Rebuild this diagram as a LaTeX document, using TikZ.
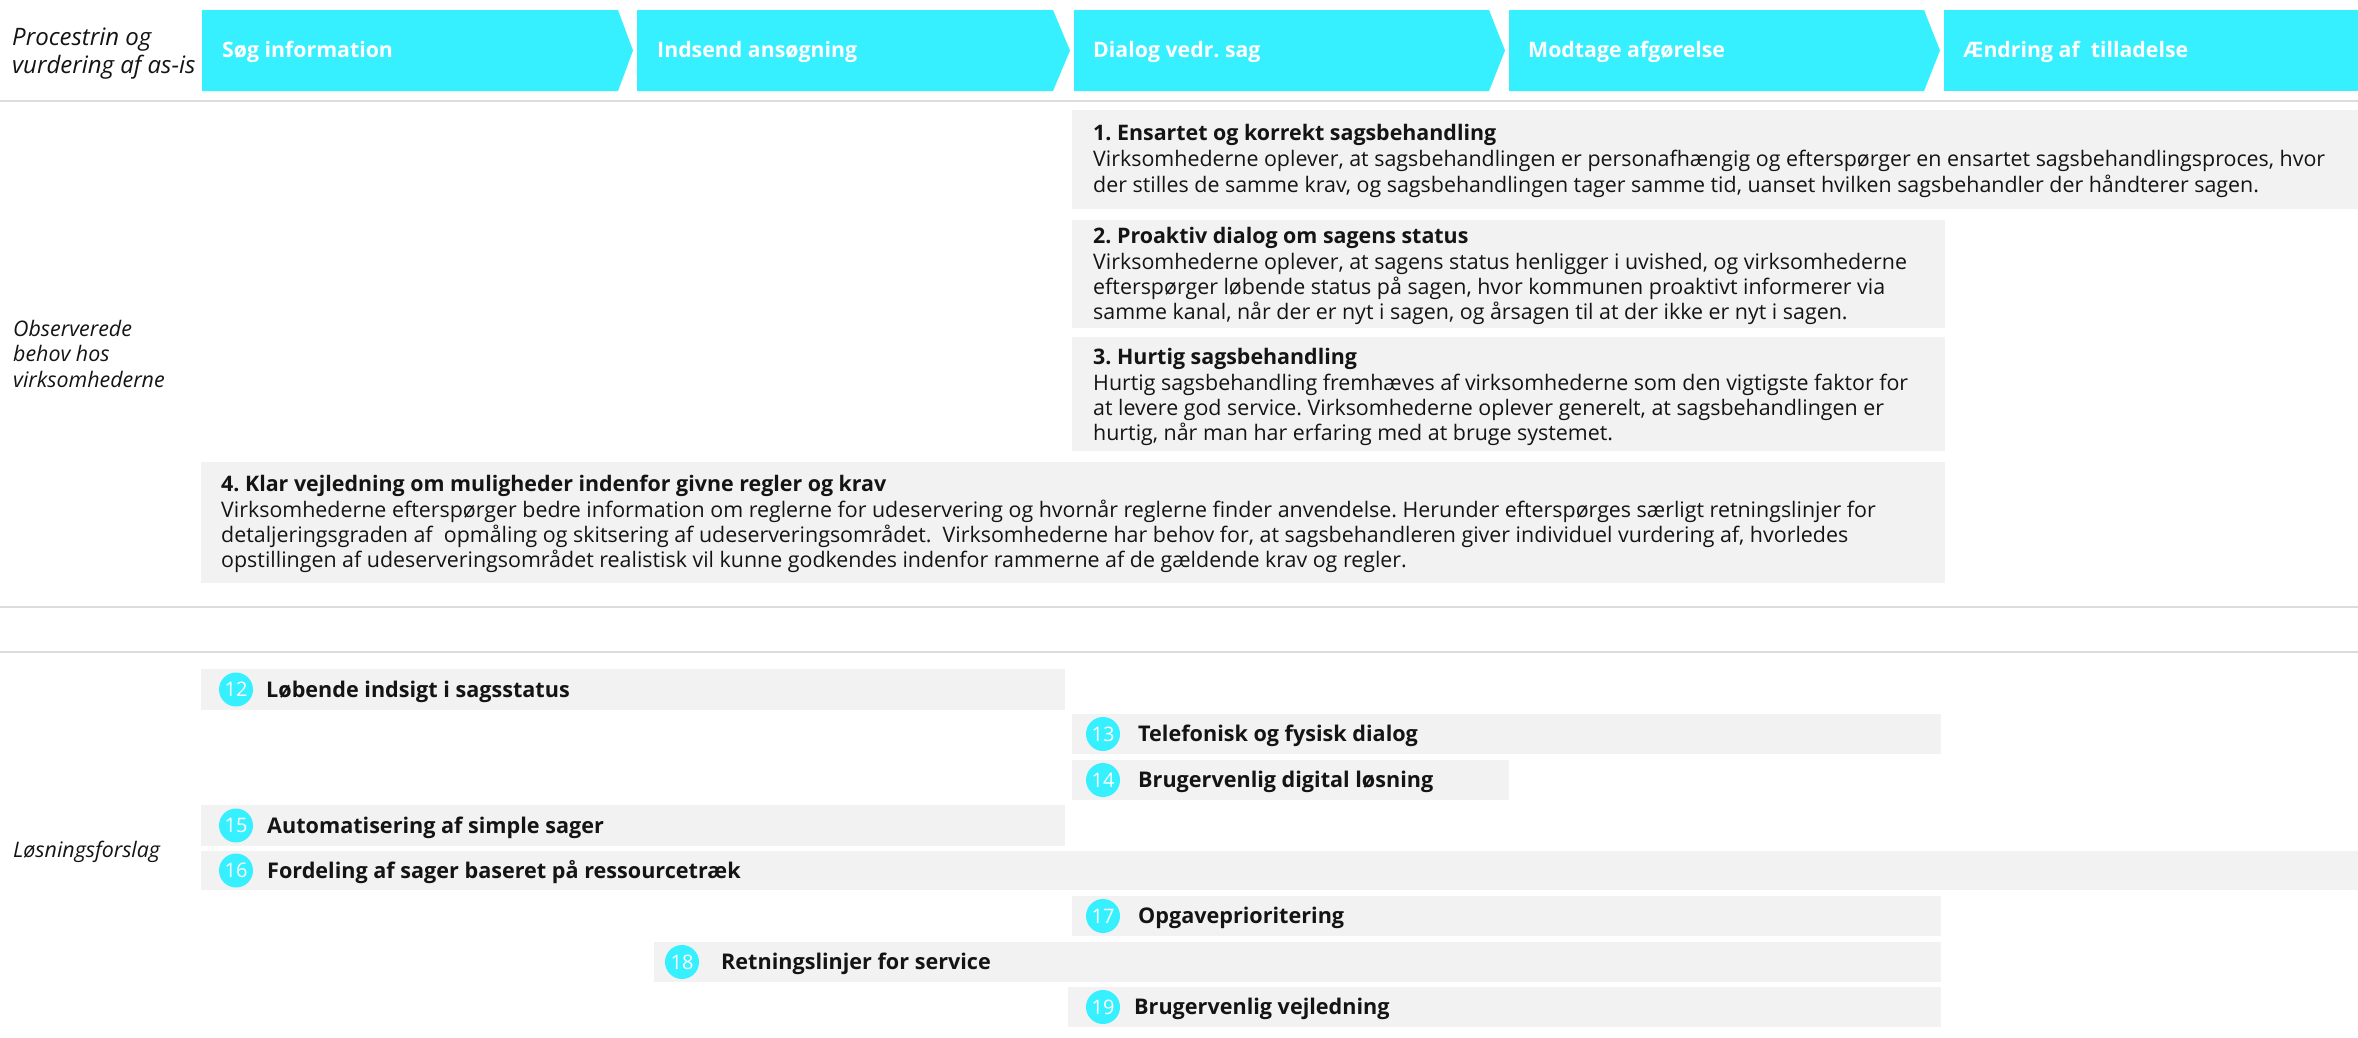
\documentclass[tikz,border=0pt]{standalone}
\usepackage{fontspec}
\setmainfont{Open Sans}
\frenchspacing
\definecolor{cy}{RGB}{54,240,255}
\definecolor{bx}{RGB}{242,242,242}
\definecolor{sepc}{RGB}{220,220,220}
\definecolor{ink}{RGB}{20,20,20}
\begin{document}
\begin{tikzpicture}[x=1pt,y=-1pt,
  chev/.style={fill=cy},
  hdr/.style={anchor=base west, inner sep=0, text=white, font=\fontsize{21.3}{24}\selectfont\bfseries},
  lbl/.style={anchor=base west, inner sep=0, text=ink, font=\fontsize{21.4}{24}\selectfont\itshape},
  biglbl/.style={anchor=base west, inner sep=0, text=ink, font=\fontsize{24}{28}\selectfont\itshape},
  ttl/.style={anchor=base west, inner sep=0, text=ink, font=\fontsize{21.4}{24}\selectfont\bfseries},
  txt/.style={anchor=base west, inner sep=0, text=ink, font=\fontsize{21.4}{24}\selectfont},
  sol/.style={anchor=base west, inner sep=0, text=ink, font=\fontsize{21.6}{24}\selectfont\bfseries},
  num/.style={circle, fill=cy, minimum size=34, inner sep=0, text=white, font=\fontsize{20}{20}\selectfont},
  boxf/.style={fill=bx},
  sepline/.style={draw=sepc, line width=2.5}
]
\useasboundingbox (0,0) rectangle (2358,1037);
\fill[white] (0,0) rectangle (2358,1037);

% header chevrons
\fill[chev] (202,10) -- (618,10) -- (633,50.5) -- (618,91) -- (202,91) -- cycle;
\fill[chev] (637,10) -- (1053,10) -- (1070,50.5) -- (1053,91) -- (637,91) -- cycle;
\fill[chev] (1074,10) -- (1489,10) -- (1505,50.5) -- (1489,91) -- (1074,91) -- cycle;
\fill[chev] (1509,10) -- (1924,10) -- (1940,50.5) -- (1924,91) -- (1509,91) -- cycle;
\fill[chev] (1944,10) -- (2358,10) -- (2358,91) -- (1944,91) -- cycle;
\node[hdr] (h1) at (222,57) {Søg information};
\node[hdr] (h2) at (657,57) {Indsend ansøgning};
\node[hdr] (h3) at (1093,57) {Dialog vedr. sag};
\node[hdr] (h4) at (1528,57) {Modtage afgørelse};
\node[hdr] (h5) at (1963,57) {Ændring af\ \ tilladelse};

% left labels
\node[biglbl] (l1a) at (12,45) {Procestrin og};
\node[biglbl] (l1b) at (12,73) {vurdering af as-is};
\node[lbl] (l2a) at (13,336) {Observerede};
\node[lbl] (l2b) at (13,361) {behov hos};
\node[lbl] (l2c) at (13,387) {virksomhederne};
\node[lbl] (l3) at (13,857) {Løsningsforslag};

% separators
\draw[sepline] (0,101) -- (2358,101);
\draw[sepline] (0,607) -- (2358,607);
\draw[sepline] (0,652) -- (2358,652);

% need boxes
\fill[boxf] (1072,110) rectangle (2358,209);
\fill[boxf] (1072,220) rectangle (1945,328);
\fill[boxf] (1072,337) rectangle (1945,451);
\fill[boxf] (201,462) rectangle (1945,583);

\node[ttl] (t1) at (1093,140) {1. Ensartet og korrekt sagsbehandling};
\node[txt] (t1a) at (1093,166) {Virksomhederne oplever, at sagsbehandlingen er personafhængig og efterspørger en ensartet sagsbehandlingsproces, hvor};
\node[txt] (t1b) at (1093,192) {der stilles de samme krav, og sagsbehandlingen tager samme tid, uanset hvilken sagsbehandler der håndterer sagen.};

\node[ttl] (t2) at (1093,243) {2. Proaktiv dialog om sagens status};
\node[txt] (t2a) at (1093,269) {Virksomhederne oplever, at sagens status henligger i uvished, og virksomhederne};
\node[txt] (t2b) at (1093,294) {efterspørger løbende status på sagen, hvor kommunen proaktivt informerer via};
\node[txt] (t2c) at (1093,319) {samme kanal, når der er nyt i sagen, og årsagen til at der ikke er nyt i sagen.};

\node[ttl] (t3) at (1093,364) {3. Hurtig sagsbehandling};
\node[txt] (t3a) at (1093,390) {Hurtig sagsbehandling fremhæves af virksomhederne som den vigtigste faktor for};
\node[txt] (t3b) at (1093,415) {at levere god service. Virksomhederne oplever generelt, at sagsbehandlingen er};
\node[txt] (t3c) at (1093,440) {hurtig, når man har erfaring med at bruge systemet.};

\node[ttl] (t4) at (221,491) {4. Klar vejledning om muligheder indenfor givne regler og krav};
\node[txt] (t4a) at (221,517) {Virksomhederne efterspørger bedre information om reglerne for udeservering og hvornår reglerne finder anvendelse. Herunder efterspørges særligt retningslinjer for};
\node[txt] (t4b) at (221,542) {detaljeringsgraden af\ \ opmåling og skitsering af udeserveringsområdet.\ \ Virksomhederne har behov for, at sagsbehandleren giver individuel vurdering af, hvorledes};
\node[txt] (t4c) at (221,567) {opstillingen af udeserveringsområdet realistisk vil kunne godkendes indenfor rammerne af de gældende krav og regler.};

% solution boxes
\fill[boxf] (201,669) rectangle (1065,710);
\fill[boxf] (1072,714) rectangle (1941,754);
\fill[boxf] (1072,760) rectangle (1509,800);
\fill[boxf] (201,805) rectangle (1065,846);
\fill[boxf] (201,851) rectangle (2358,890);
\fill[boxf] (1072,896) rectangle (1941,936);
\fill[boxf] (654,942) rectangle (1941,982);
\fill[boxf] (1068,987) rectangle (1941,1027);

\node[num] (n12) at (236,689.5) {12};
\node[sol] (s12) at (266,697) {Løbende indsigt i sagsstatus};
\node[num] (n13) at (1103,734) {13};
\node[sol] (s13) at (1138,741.5) {Telefonisk og fysisk dialog};
\node[num] (n14) at (1103,780) {14};
\node[sol] (s14) at (1138,787.5) {Brugervenlig digital løsning};
\node[num] (n15) at (236,825.5) {15};
\node[sol] (s15) at (267,833) {Automatisering af simple sager};
\node[num] (n16) at (236,870.5) {16};
\node[sol] (s16) at (267,878) {Fordeling af sager baseret på ressourcetræk};
\node[num] (n17) at (1103,916) {17};
\node[sol] (s17) at (1138,923.5) {Opgaveprioritering};
\node[num] (n18) at (682,962) {18};
\node[sol] (s18) at (721,969.5) {Retningslinjer for service};
\node[num] (n19) at (1103,1007) {19};
\node[sol] (s19) at (1134,1014.5) {Brugervenlig vejledning};
\end{tikzpicture}
\end{document}
